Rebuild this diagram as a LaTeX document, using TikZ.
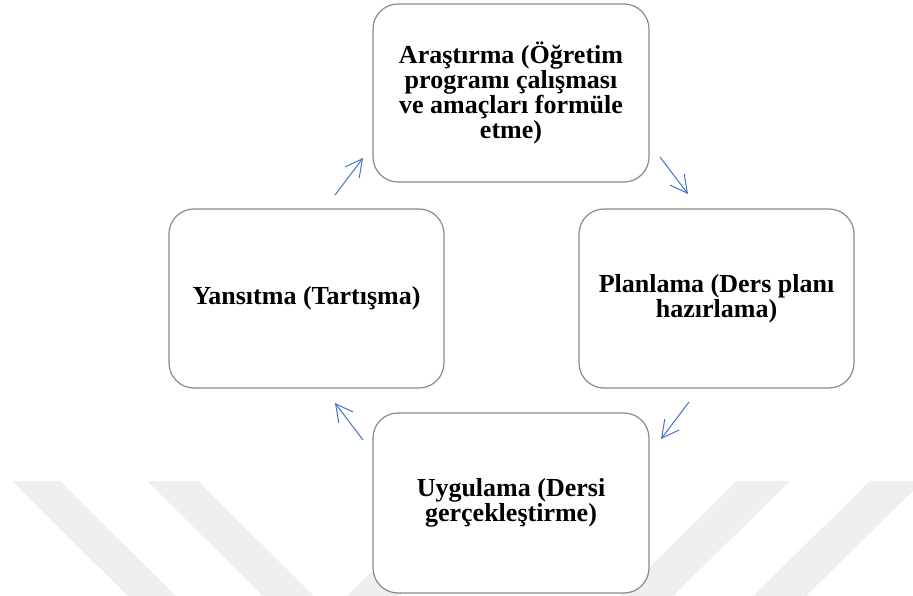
\documentclass[tikz,border=0pt]{standalone}
\usepackage{fontspec}
\setmainfont{Liberation Serif}
\usetikzlibrary{arrows.meta}
\definecolor{wm}{HTML}{EFEFEF}
\definecolor{boxline}{HTML}{8A8A8A}
\definecolor{arr}{HTML}{4472C4}
\tikzset{
  stagebox/.style={draw=boxline, line width=1.2pt, fill=white, rounded corners=25pt,
    inner sep=0pt, align=center,
    font=\fontsize{26}{23.3}\selectfont\bfseries},
  cyclearrow/.style={draw=arr, line width=1pt, -{Straight Barb[length=17pt,width=18pt]}},
  stripe/.style={fill=wm, draw=none}
}
\begin{document}
\begin{tikzpicture}[x=1pt,y=-1pt]
\useasboundingbox (0,0) rectangle (913,596);
% watermark stripes
\fill[stripe] (12,481) -- (60,481) -- (176,596) -- (128,596) -- cycle;
\fill[stripe] (147,481) -- (198,481) -- (314,596) -- (263,596) -- cycle;
\fill[stripe] (347,596) -- (400,596) -- (515,481) -- (462,481) -- cycle;
\fill[stripe] (737,481) -- (790,481) -- (673,596) -- (620,596) -- cycle;
\fill[stripe] (870,481) -- (923,481) -- (806,596) -- (753,596) -- cycle;
% boxes
\node[stagebox, minimum width=276pt, minimum height=178pt] (arastirma) at (511,93)
  {Araştırma (Öğretim\\programı çalışması\\ve amaçları formüle\\etme)};
\node[stagebox, minimum width=275pt, minimum height=179pt] (planlama) at (716.5,298.5)
  {Planlama (Ders planı\\hazırlama)};
\node[stagebox, minimum width=276pt, minimum height=180pt] (uygulama) at (511,503)
  {Uygulama (Dersi\\gerçekleştirme)};
\node[stagebox, minimum width=275pt, minimum height=179pt] (yansitma) at (306.5,298.5)
  {Yansıtma (Tartışma)};
% arrow end points
\coordinate (a1s) at (335,195); \coordinate (a1e) at (363,158);
\coordinate (a2s) at (660,157); \coordinate (a2e) at (688,194);
\coordinate (a3s) at (689,402); \coordinate (a3e) at (661,439);
\coordinate (a4s) at (363,440); \coordinate (a4e) at (335,403);
\draw[cyclearrow] (a1s) -- (a1e);
\draw[cyclearrow] (a2s) -- (a2e);
\draw[cyclearrow] (a3s) -- (a3e);
\draw[cyclearrow] (a4s) -- (a4e);
\end{tikzpicture}
\end{document}
